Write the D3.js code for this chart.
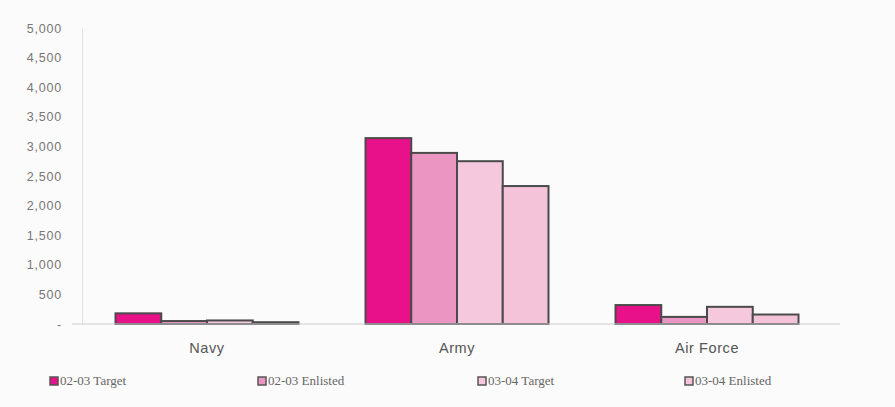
<!DOCTYPE html>
<html>
<head>
<meta charset="utf-8">
<script src="https://cdn.jsdelivr.net/npm/d3@7"></script>
<style>
  body { margin: 0; background: #fbfbfb; }
  svg { display: block; }
</style>
</head>
<body>
<svg id="chart"></svg>
<script>
// Chart data
const categories = ['Navy', 'Army', 'Air Force'];
const seriesNames = ['02-03 Target', '02-03 Enlisted', '03-04 Target', '03-04 Enlisted'];
const target0203 = [180, 3140, 320];
const enlisted0203 = [50, 2890, 120];
const target0304 = [60, 2750, 290];
const enlisted0304 = [30, 2330, 160];
const yTicks = [0, 500, 1000, 1500, 2000, 2500, 3000, 3500, 4000, 4500, 5000];

const seriesValues = [target0203, enlisted0203, target0304, enlisted0304];
const colors = ['#e8118a', '#eb96c2', '#f5c8dd', '#f4c3d9'];

const width = 895, height = 407;
const margin = { top: 28, right: 63, bottom: 83, left: 82 };

const svg = d3.select('#chart')
  .attr('width', width)
  .attr('height', height);

const plotW = width - margin.left - margin.right;
const plotH = height - margin.top - margin.bottom;

const g = svg.append('g')
  .attr('transform', `translate(${margin.left},${margin.top})`);

// Scales
const x0 = d3.scaleBand()
  .domain(categories)
  .range([0, plotW])
  .paddingInner(0.268)
  .paddingOuter(0.134);

const x1 = d3.scaleBand()
  .domain(seriesNames)
  .range([0, x0.bandwidth()]);

const y = d3.scaleLinear()
  .domain([0, 5000])
  .range([plotH, 0]);

// y axis
const fmt = d => d === 0 ? '-' : d3.format(',')(d);
const yAxis = g.append('g')
  .attr('class', 'y-axis')
  .call(d3.axisLeft(y).tickValues(yTicks).tickFormat(fmt).tickSize(0).tickPadding(20));
yAxis.select('.domain').attr('stroke', '#e2e2e6');
yAxis.selectAll('text')
  .attr('fill', '#777')
  .style('font-family', 'Arial, "Liberation Sans", sans-serif')
  .style('font-size', '12.5px')
  .style('letter-spacing', '0.8px');

// Bars
const groups = g.selectAll('.group')
  .data(categories)
  .enter().append('g')
  .attr('class', 'group')
  .attr('transform', d => `translate(${x0(d)},0)`);

groups.selectAll('rect')
  .data((d, i) => seriesNames.map((s, j) => ({ s, j, v: seriesValues[j][i] })))
  .enter().append('rect')
  .attr('x', d => x1(d.s))
  .attr('y', d => y(d.v))
  .attr('width', x1.bandwidth())
  .attr('height', d => plotH - y(d.v))
  .attr('fill', d => colors[d.j])
  .attr('stroke', '#4a4a4a')
  .attr('stroke-width', 2);

// baseline
g.append('line')
  .attr('x1', -10)
  .attr('x2', plotW + 8)
  .attr('y1', plotH)
  .attr('y2', plotH)
  .attr('stroke', '#cfcfd4')
  .attr('stroke-width', 1);

// x axis labels
g.selectAll('.x-label')
  .data(categories)
  .enter().append('text')
  .attr('class', 'x-label')
  .attr('x', d => x0(d) + x0.bandwidth() / 2)
  .attr('y', plotH + 29)
  .attr('text-anchor', 'middle')
  .attr('fill', '#555')
  .style('font-family', 'Arial, "Liberation Sans", sans-serif')
  .style('font-size', '14.5px')
  .style('letter-spacing', '0.6px')
  .text(d => d);

// Legend
const legendX = [50, 258, 478, 685];
const legend = svg.selectAll('.legend')
  .data(seriesNames)
  .enter().append('g')
  .attr('class', 'legend')
  .attr('transform', (d, i) => `translate(${legendX[i]},382)`);

legend.append('rect')
  .attr('x', 0)
  .attr('y', -5)
  .attr('width', 8)
  .attr('height', 8)
  .attr('fill', (d, i) => colors[i])
  .attr('stroke', '#555')
  .attr('stroke-width', 1.5);

legend.append('text')
  .attr('x', 10)
  .attr('y', 3)
  .attr('fill', '#666')
  .style('font-family', '"Liberation Serif", "Times New Roman", serif')
  .style('font-size', '13px')
  .text(d => d);
</script>
</body>
</html>
